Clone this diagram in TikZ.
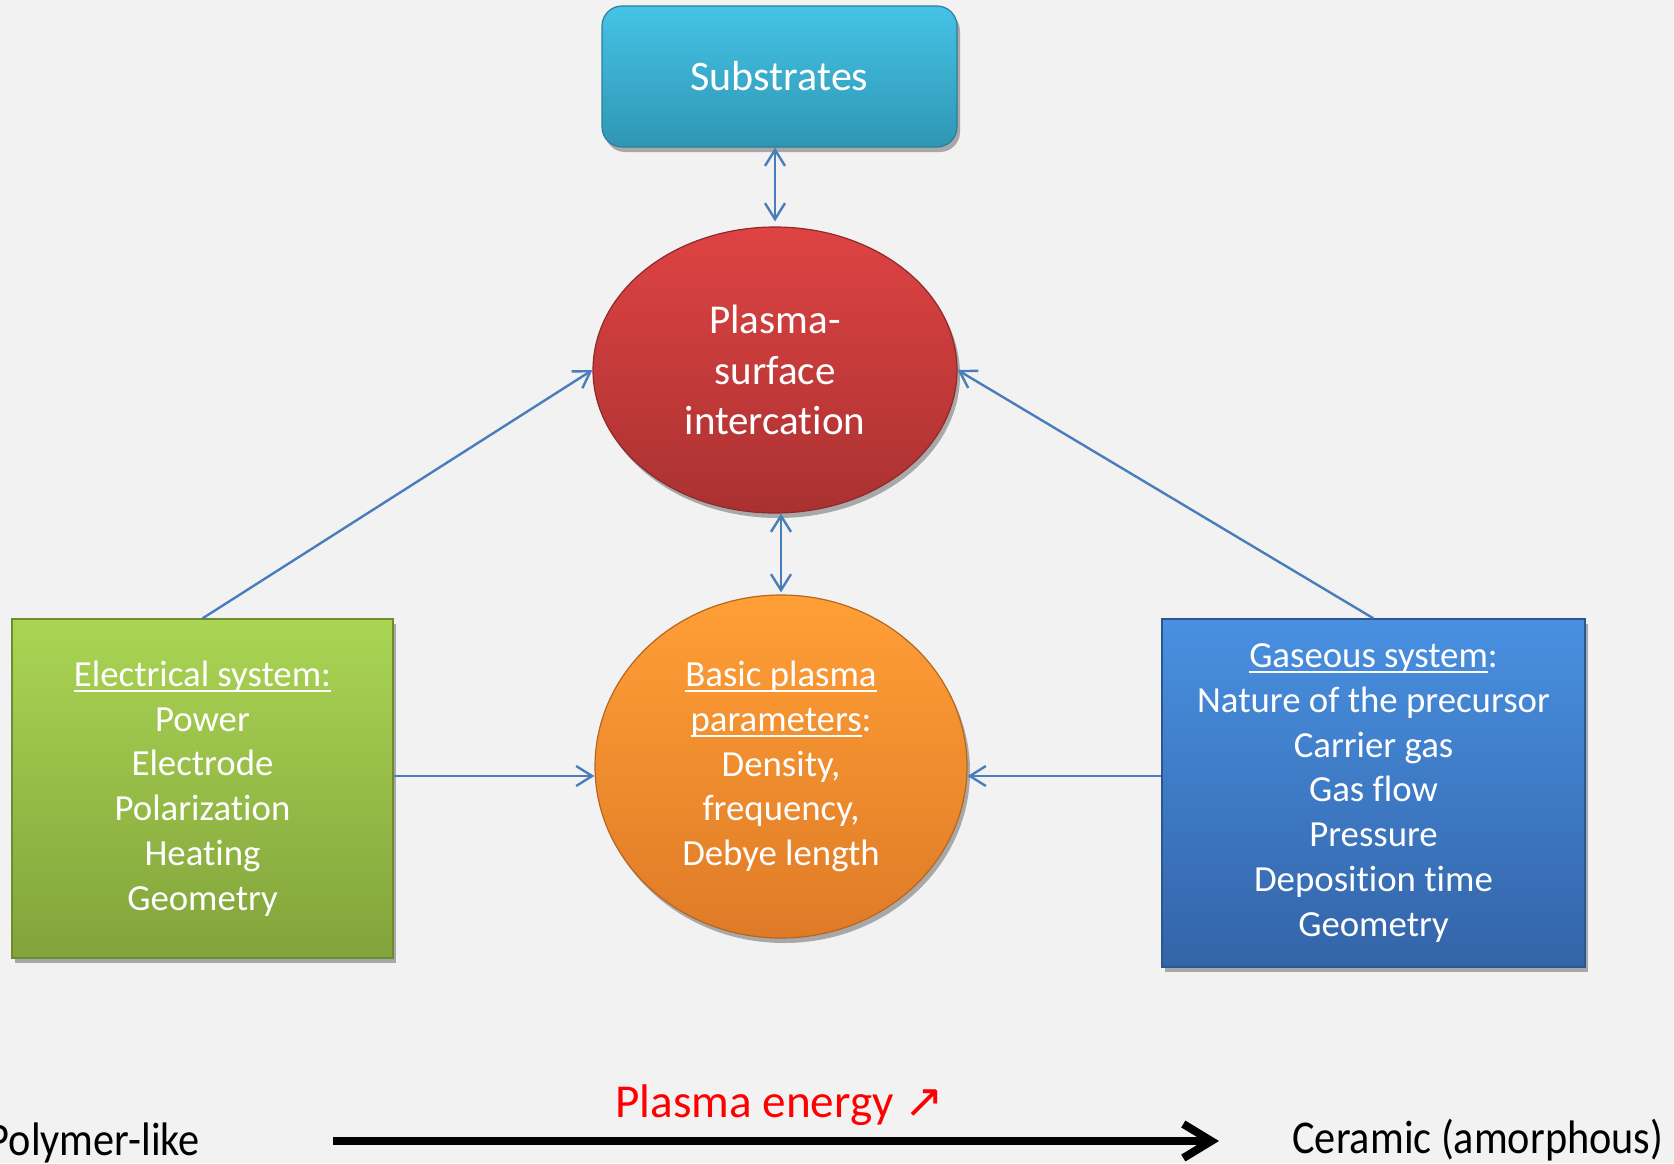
\documentclass[tikz,border=0pt]{standalone}
\usepackage{fontspec}
\setmainfont{Carlito}[Ligatures=NoCommon]
\newfontfamily\condfont[FakeStretch=0.9,Ligatures=NoCommon]{Carlito}
\newfontfamily\symfont{DejaVu Sans}
\usetikzlibrary{arrows.meta,shapes.geometric,shadows}
\newsavebox\ulbox
\newcommand\myul[1]{\sbox\ulbox{#1}\rlap{\rule[-0.16em]{\wd\ulbox}{0.065em}}\usebox\ulbox}
\definecolor{bg}{HTML}{F2F2F2}
\definecolor{cyanT}{HTML}{45C3E6}
\definecolor{cyanB}{HTML}{2F96B4}
\definecolor{cyanD}{HTML}{2A7F9A}
\definecolor{redT}{HTML}{DF4343}
\definecolor{redB}{HTML}{AA3131}
\definecolor{redD}{HTML}{8E2A2A}
\definecolor{orT}{HTML}{FF9F36}
\definecolor{orB}{HTML}{DF7B27}
\definecolor{orD}{HTML}{B8661F}
\definecolor{grT}{HTML}{AAD554}
\definecolor{grB}{HTML}{82A33B}
\definecolor{grD}{HTML}{6E8B32}
\definecolor{blT}{HTML}{4990E1}
\definecolor{blB}{HTML}{3364A8}
\definecolor{blD}{HTML}{2B5690}
\definecolor{conncol}{HTML}{4A7EBB}
\tikzset{
  shade3d/.style={drop shadow={shadow xshift=1.5pt,shadow yshift=-2.5pt,opacity=0.3,fill=black}},
  bodytext/.style={text=white,align=center,font=\fontsize{18.4}{22.4}\selectfont},
  subbox/.style={rectangle,rounded corners=10pt,minimum width=177.5pt,minimum height=70.5pt,inner sep=0pt,
    top color=cyanT,bottom color=cyanB,draw=cyanD,line width=0.6pt,shade3d,
    text=white,font=\fontsize{21}{25}\selectfont},
  redell/.style={ellipse,minimum width=182pt,minimum height=143pt,inner sep=0pt,
    top color=redT,bottom color=redB,draw=redD,line width=0.6pt,shade3d,
    text=white,align=center,font=\fontsize{20.5}{25.1}\selectfont},
  orell/.style={ellipse,minimum width=186pt,minimum height=171.5pt,inner sep=0pt,
    top color=orT,bottom color=orB,draw=orD,line width=0.6pt,shade3d,bodytext},
  grbox/.style={rectangle,minimum width=190.5pt,minimum height=169.5pt,inner sep=0pt,
    top color=grT,bottom color=grB,draw=grD,line width=0.6pt,shade3d,bodytext},
  blbox/.style={rectangle,minimum width=211.5pt,minimum height=174pt,inner sep=0pt,
    top color=blT,bottom color=blB,draw=blD,line width=0.6pt,shade3d,bodytext},
  conn/.style={draw=conncol,line width=1.2pt,arrows={-Straight Barb[length=8pt,width=10pt]}},
  biconn/.style={draw=conncol,line width=1.2pt,arrows={Straight Barb[length=8pt,width=10pt]-Straight Barb[length=8pt,width=10pt]}},
  bigarrow/.style={draw=black,line width=4pt,arrows={-Straight Barb[length=14pt,width=17pt]}},
  sidelabel/.style={text=black,inner sep=0pt,font=\condfont\fontsize{23.5}{28}\selectfont},
  energylabel/.style={text=red,inner sep=0pt,font=\fontsize{23.6}{28}\selectfont}
}
\begin{document}
\begin{tikzpicture}[x=0.5pt,y=-0.5pt]
\fill[bg] (0,0) rectangle (1674,1163);
\useasboundingbox (0,0) rectangle (1674,1163);

\node[subbox] (sub) at (779.5,76.5) {Substrates};
\node[redell] (psi) at (775,370) {Plasma-\\surface\\intercation};
\node[orell] (bpp) at (781,766.5) {\myul{Basic plasma}\\\myul{parameters}:\\Density,\\frequency,\\Debye length};
\node[grbox] (ele) at (202.5,788.5) {\myul{Electrical system:}\\Power\\Electrode\\Polarization\\Heating\\Geometry};
\node[blbox] (gas) at (1373.5,793) {\myul{Gaseous system}:\\Nature of the precursor\\Carrier gas\\Gas flow\\Pressure\\Deposition time\\Geometry};

\coordinate (ly) at (0,776);
\draw[biconn,shorten >=2.5pt] (psi.north |- sub.south) -- (psi.north);
\draw[biconn,shorten >=1pt] (bpp.north |- psi.south) -- (bpp.north);
\draw[conn] (ele.north) -- (psi.west);
\draw[conn] (gas.north) -- (psi.east);
\draw[conn] (ele.east |- ly) -- (bpp.west |- ly);
\draw[conn] (gas.west |- ly) -- (bpp.east |- ly);

\coordinate (a1) at (333,1141);
\coordinate (a2) at (1219,1141);
\draw[bigarrow] (a1) -- (a2);
\node[sidelabel,anchor=base east] (poly) at (200,1155) {Polymer-like};
\node[sidelabel,anchor=base west] (cera) at (1292,1153) {Ceramic (amorphous)};
\node[energylabel,anchor=base west] (energy) at (615,1117) {Plasma energy {\symfont ↗}};
\end{tikzpicture}
\end{document}
